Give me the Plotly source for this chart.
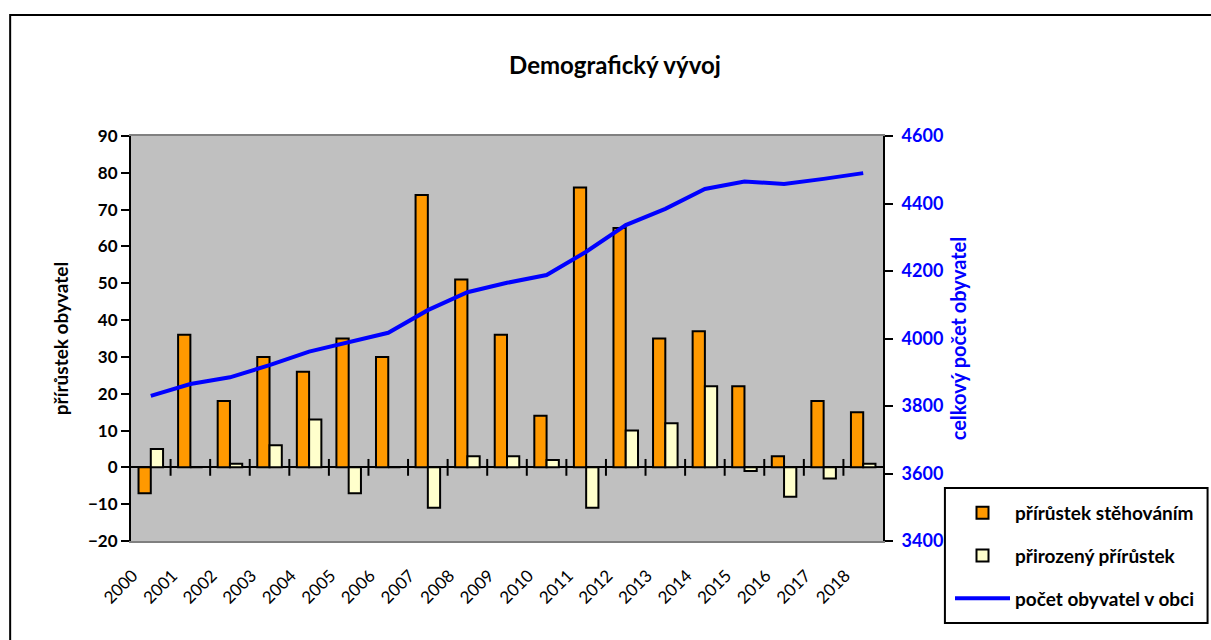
import plotly.graph_objects as go

years = [str(y) for y in range(2000, 2019)]
migration = [-7, 36, 18, 30, 26, 35, 30, 74, 51, 36, 14, 76, 65, 35, 37, 22, 3, 18, 15]
natural = [5, 0, 1, 6, 13, -7, 0, -11, 3, 3, 2, -11, 10, 12, 22, -1, -8, -3, 1]
population = [3830, 3865, 3885, 3921, 3961, 3989, 4017, 4084, 4137, 4165, 4188,
              4257, 4336, 4384, 4443, 4465, 4458, 4473, 4490]

W, H = 1211, 640
L, R, T, B = 131, 884, 136, 541  # plot area in pixels
FONT = "Lato, Carlito, 'Open Sans', sans-serif"

idx = list(range(len(years)))
boundaries = [i + 0.5 for i in idx[:-1]]


def px_x(px):
    return (px - L) / (R - L)


def px_y(py):
    return (B - py) / (B - T)


fig = go.Figure()
fig.add_trace(go.Bar(
    x=idx, y=migration, name="přírůstek stěhováním",
    marker=dict(color="#FF9900", line=dict(color="black", width=2)),
    legendgroup="a", yaxis="y"))
fig.add_trace(go.Bar(
    x=idx, y=natural, name="přirozený přírůstek",
    marker=dict(color="#FFFFCC", line=dict(color="black", width=2)),
    legendgroup="b", yaxis="y"))
fig.add_trace(go.Scatter(
    x=boundaries, y=[0] * len(boundaries), mode="markers", showlegend=False,
    hoverinfo="skip",
    marker=dict(symbol="line-ns", size=12, line=dict(color="black", width=2)),
    yaxis="y"))
fig.add_trace(go.Scatter(
    x=idx, y=population, name="počet obyvatel v obci", mode="lines",
    line=dict(color="#0000FF", width=4), legendgroup="c", yaxis="y2"))

fig.update_layout(
    width=W, height=H,
    margin=dict(l=L, r=W - R, t=T, b=H - B, pad=0),
    paper_bgcolor="white", plot_bgcolor="#C0C0C0",
    font=dict(family=FONT, color="black", size=15),
    barmode="group", bargap=0.38, bargroupgap=0,
    title=dict(text="<b>Demografický vývoj</b>", x=615 / W, xref="container",
               xanchor="center", y=1 - 66 / H, yref="container", yanchor="middle",
               font=dict(size=24, family=FONT, color="black")),
    xaxis=dict(range=[-0.5, len(years) - 0.5], tickmode="array", tickvals=idx,
               ticktext=years, tickangle=-45, ticks="", showgrid=False,
               zeroline=False, showline=True, linecolor="#808080", linewidth=2,
               mirror=True, ticklabelstandoff=16, ticklabelshift=-18,
               tickfont=dict(size=17, family=FONT, color="black")),
    yaxis=dict(range=[-20, 90], dtick=10, tick0=0, showgrid=False,
               zeroline=True, zerolinecolor="black", zerolinewidth=2,
               showline=True, linecolor="black", linewidth=2,
               ticks="outside", ticklen=8, tickwidth=2, tickcolor="black",
               tickfont=dict(size=17, family=FONT, color="black", weight="bold"),
               title=dict(text="<b>přírůstek obyvatel</b>", standoff=14,
                          font=dict(size=19, family=FONT, color="black"))),
    yaxis2=dict(range=[3400, 4600], dtick=200, overlaying="y", side="right",
                anchor="x", showgrid=False, zeroline=False,
                showline=True, linecolor="black", linewidth=2,
                ticks="outside", ticklen=8, tickwidth=2, tickcolor="black",
                ticklabelstandoff=5,
                tickfont=dict(size=18, family=FONT, color="#0000FF", weight="bold"),
                title=dict(text="<b>celkový počet obyvatel</b>", standoff=10,
                           font=dict(size=20, family=FONT, color="#0000FF"))),
    legend=dict(x=px_x(950), y=px_y(494), xanchor="left", yanchor="top",
                bgcolor="rgba(0,0,0,0)", borderwidth=0,
                traceorder="grouped", tracegroupgap=15, itemwidth=55,
                font=dict(size=19, family=FONT, color="black", weight="bold")),
    shapes=[
        dict(type="rect", xref="paper", yref="paper",
             x0=px_x(10), x1=px_x(1216), y0=px_y(646), y1=px_y(15),
             line=dict(color="black", width=2), fillcolor="rgba(0,0,0,0)",
             layer="below"),
        dict(type="rect", xref="paper", yref="paper",
             x0=px_x(946), x1=px_x(1209), y0=px_y(623), y1=px_y(488),
             line=dict(color="black", width=2), fillcolor="white",
             layer="below"),
    ],
)

fig.write_html("out.html",
               config={"displayModeBar": False},
               post_script="document.body.style.margin='0';"
                           "document.body.style.overflow='hidden';")
